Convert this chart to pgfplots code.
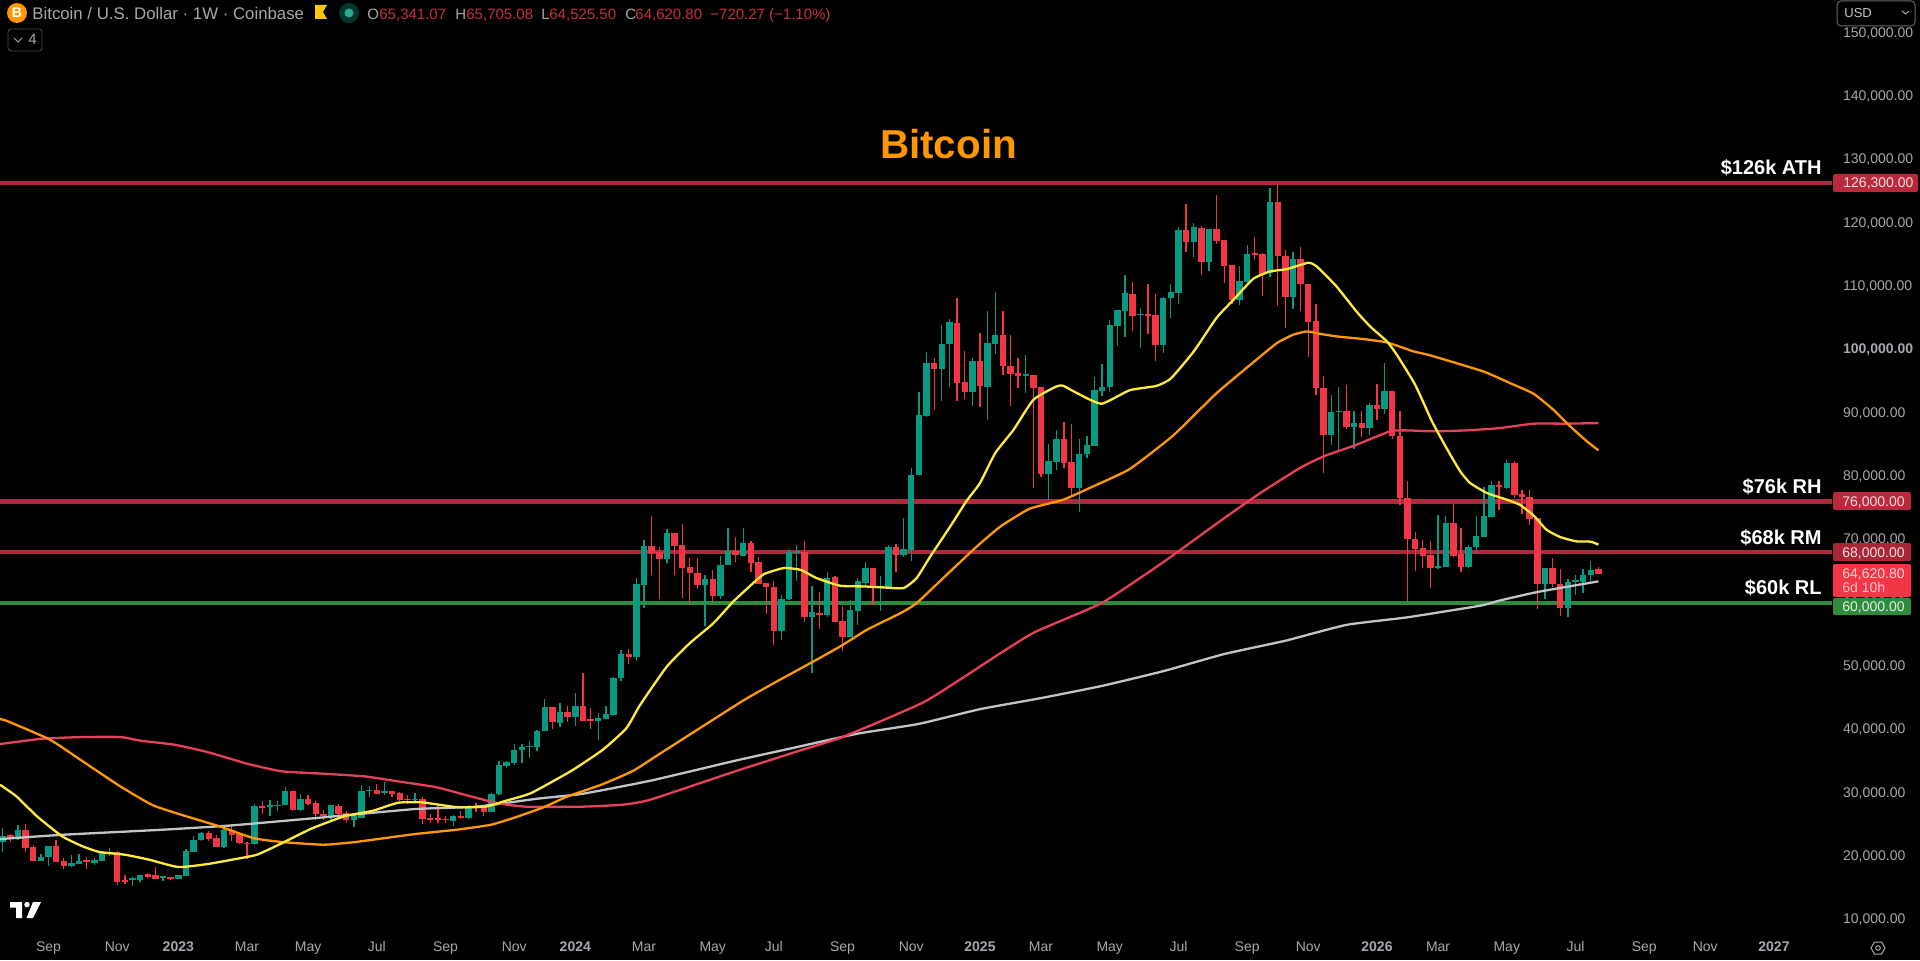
\documentclass[border=0pt]{standalone}
\usepackage{fontspec}
\setmainfont{Liberation Sans}
\usepackage{pgfplots}
\usepackage{pgfplotstable}
\pgfplotsset{compat=1.18}
\definecolor{cg}{HTML}{089981}
\definecolor{cr}{HTML}{F23645}
\definecolor{lred}{HTML}{AC2A3C}
\definecolor{tred}{HTML}{B7293B}
\definecolor{lgreen}{HTML}{2E8B3E}
\definecolor{myel}{HTML}{FFEB3B}
\definecolor{mora}{HTML}{FF9800}
\definecolor{mpink}{HTML}{E8405A}
\definecolor{mgrey}{HTML}{C2C4CA}
\definecolor{tick}{HTML}{A6A8AE}
\definecolor{hred}{HTML}{C8303F}
\pgfplotstableread{
i o h l c
0 22310 24420 20630 23100
2 22840 24840 22580 24150
5 19260 20370 19260 19840
6 19840 21630 18470 21630
9 18520 20210 18260 18890
10 18790 20310 18790 19260
12 19000 19680 18520 19370
13 19260 20840 19260 20470
14 20470 21260 19950 20630
17 16260 16630 15210 16420
18 16210 17000 15900 16950
21 16580 16740 16100 16740
23 16370 17000 16370 16950
24 16950 21100 16840 20730
25 20730 23100 20630 22530
26 22530 23790 22310 23580
29 21530 24950 21260 24150
33 21890 28210 21790 27840
35 27790 28890 26260 27990
36 27990 28630 27160 28100
37 28100 30840 27990 30210
39 27370 29790 27050 29050
43 26370 28100 25730 27950
46 25790 26630 24520 26310
47 26100 31150 26100 30310
48 30310 31000 29260 30470
50 30000 31630 29680 30210
54 28840 29940 28370 29050
59 25630 26520 24730 26260
61 26000 28100 25890 27840
64 26940 30000 26940 29790
65 29790 35000 29680 34310
66 34310 35050 33890 34840
67 34780 37680 34310 36780
68 36780 37680 34630 37150
69 37260 38200 35470 37420
70 37200 39940 36520 39780
71 39780 44840 39680 43570
73 41100 44150 40310 42730
75 42050 45730 40470 43680
78 41310 42570 38360 41780
79 41730 43630 41630 42360
80 42360 48310 42150 48100
81 48100 52570 47570 51940
83 51420 63890 50730 62940
84 62840 69840 59150 68890
87 66940 71680 66260 70990
92 62830 64410 56260 63780
94 61150 67310 60620 66000
95 66000 71780 66000 68200
97 67470 71780 67470 69410
102 55570 61260 54050 60570
103 60570 68360 60470 67990
104 67990 69150 63360 68100
106 57840 62570 48890 58520
108 58100 64830 57680 63940
111 54570 60360 54570 58890
112 58780 63890 56520 63360
113 63200 66360 62410 65410
115 62520 64260 58620 62680
116 62520 69150 62310 68780
118 67570 73360 67260 68520
119 68360 81260 66620 80210
120 80210 93260 80210 89630
121 89570 99570 89260 97840
123 96940 103780 91790 100890
124 100890 104840 94000 104260
127 93260 98630 91100 98100
129 94150 106000 88890 100940
130 100940 109050 99260 102310
134 95940 99150 93100 96100
137 80420 85100 76260 82310
138 82310 87310 81000 85840
141 78100 85890 74310 83470
142 83470 86260 82840 84840
143 84840 95630 84840 93520
144 93520 97730 92580 94050
145 94050 104680 93260 103780
146 103780 106150 100470 106150
147 106150 111790 101890 108890
149 105470 106520 100200 105630
152 100730 108200 99420 108100
153 108100 110310 104940 109000
154 108890 119320 107200 118890
156 117050 119940 114520 119260
158 113890 119050 112420 119050
162 107840 113100 107050 110840
163 110730 116520 110470 115100
166 112050 125470 111360 123260
169 108360 115360 106420 114310
174 86520 92840 84940 90100
175 90200 94000 83890 90310
177 87840 90210 84310 88370
179 87580 91520 86520 91260
181 90570 97840 89790 93360
188 65580 73800 65270 65790
189 65690 73640 65690 72580
192 65690 69060 65480 68790
193 68790 73640 67690 70480
194 70480 78210 70480 73640
195 73640 79270 73530 78480
197 78210 82580 78000 82060
202 63060 65480 60640 65480
205 59270 63800 57690 63270
206 63370 64420 61160 63530
207 63370 65370 61530 64420
208 64420 66640 63480 65060
}\greens
\pgfplotstableread{
i o h l c
1 23315 23525 22210 22950
3 24150 25050 20630 21370
4 21370 21680 19260 19260
7 21630 22580 19160 19160
8 19260 19680 17950 18520
11 19310 19790 17950 19160
15 20630 20730 15470 16000
16 16210 16950 15580 16000
19 17100 17310 16530 16740
20 16950 18210 16370 16470
22 16630 16740 16210 16370
27 23580 24000 22420 22790
28 22790 23370 21370 21530
30 24150 25050 22420 23370
31 23370 23630 21900 22100
32 22100 22210 19580 22000
34 27900 28630 26630 27700
38 30210 30310 27050 27310
40 29050 29580 27990 28310
41 28310 28630 25730 26630
42 26630 27310 25730 26370
44 27840 28260 26420 26730
45 26730 27050 25210 25680
49 30420 31360 29790 29890
51 30160 30210 29260 29890
52 29890 30100 28630 28940
53 29050 29580 28210 28840
55 29050 29370 25050 25940
56 25940 26630 25210 25790
57 26000 27840 25210 25790
58 25890 26260 25260 25790
60 26260 27160 25890 26100
62 27890 28370 26940 27680
63 27680 28100 26310 26940
72 43570 43570 40050 41150
74 42780 43630 41150 42000
76 43730 48890 41260 41360
77 41570 43360 40050 41420
82 51940 52730 50360 51420
85 68890 73620 64410 67940
86 67990 68730 60620 66940
88 70990 71000 64310 69040
89 69040 72470 60730 65570
90 65570 67050 59780 64680
91 64680 67050 62200 62830
93 63780 65200 60100 61150
96 68200 70310 66360 67520
98 69410 69780 64830 66360
99 66360 67150 62940 62940
100 63000 63100 58200 62470
101 62470 63470 53360 55570
105 67990 69680 56940 57840
107 58360 61620 55890 58200
109 64000 64260 57050 57050
110 57050 59410 52410 54570
114 65410 65410 59570 62520
117 68730 69260 64830 67570
122 97840 98630 90470 96940
125 104210 108100 91890 94790
126 94790 99680 92150 93260
128 98100 102570 90940 94260
131 102310 106100 96000 97360
132 97420 102310 91000 96150
133 96210 98630 93890 95840
135 96000 96000 78100 94000
136 94000 94000 79840 80420
139 85840 88470 81260 82150
140 82150 88210 76790 78100
148 108790 110630 102840 105360
150 105520 110360 102470 105360
151 105360 108730 98100 100730
155 118890 122940 115310 117050
157 119150 119420 111680 113890
159 119050 124310 116630 117210
160 117260 117260 110470 113210
161 113260 113260 107150 107840
164 115210 117730 114150 115050
165 115050 115210 108360 111890
167 123260 126000 106790 114730
168 114780 115730 103360 108360
170 114310 116150 106000 110310
171 110310 110310 98730 104420
172 104420 107150 92730 93890
173 93890 95730 80500 86520
176 90210 94420 87470 87840
178 88370 90310 86100 87580
180 91150 94570 88890 90570
182 93360 93360 85840 86360
183 86360 90210 75480 76530
184 76530 79160 60210 70060
185 70060 71160 64950 68530
186 68530 69950 65480 67430
187 67480 69800 62320 65580
190 72580 75640 67270 67480
191 67580 71790 64800 65740
196 78530 79270 74690 78370
198 82060 82320 76530 77060
199 77110 77850 74000 76690
200 76690 77850 72320 73320
201 73320 73320 59060 63060
203 65480 67060 62420 62950
204 62950 65370 57850 59270
209 65341 65705 64525 64620
}\reds
\newcommand{\candles}[2]{%
\addplot[draw=none,mark=none,forget plot,error bars/.cd,y dir=both,y explicit,error mark=none,error bar style={draw=#2,line width=0.65pt}]
 table[x=i,y expr={(\thisrow{h}+\thisrow{l})/2},y error expr={(\thisrow{h}-\thisrow{l})/2}]{#1};
\addplot[draw=none,mark=none,forget plot,error bars/.cd,y dir=both,y explicit,error mark=none,error bar style={draw=#2,line width=3.2pt}]
 table[x=i,y expr={(\thisrow{o}+\thisrow{c})/2},y error expr={abs(\thisrow{o}-\thisrow{c})/2+35}]{#1};
}
\begin{document}
\begin{tikzpicture}
\path[use as bounding box,fill=black] (0,0) rectangle (960pt,480pt);
\begin{axis}[at={(0,14.3pt)},anchor=south west,width=916pt,height=465pt,scale only axis,
 xmin=-0.354,xmax=239.6,ymin=8100,ymax=154950,clip=false,
 axis line style={draw=none},tick style={draw=none},major tick length=0pt,
 ytick pos=right,yticklabel pos=right,
 ytick={10000,20000,30000,40000,50000,60000,70000,80000,90000,110000,120000,130000,140000,150000},
 extra y ticks={100000},extra y tick style={yticklabel style={font=\fontsize{7pt}{8pt}\selectfont\bfseries}},
 y tick label style={font=\fontsize{7pt}{8pt}\selectfont,text=tick,anchor=west,xshift=2pt,yshift=-0.3pt,
   /pgf/number format/assume math mode=true,/pgf/number format/fixed,/pgf/number format/fixed zerofill,/pgf/number format/precision=2,/pgf/number format/1000 sep={,}},
 scaled y ticks=false,
 xtick={6,15,23,32,40,49,58,67,75,84,93,101,110,119,128,136,145,154,163,171,180,188,197,206,215,223,232},
 xticklabels={Sep,Nov,\textbf{2023},Mar,May,Jul,Sep,Nov,\textbf{2024},Mar,May,Jul,Sep,Nov,\textbf{2025},Mar,May,Jul,Sep,Nov,\textbf{2026},Mar,May,Jul,Sep,Nov,\textbf{2027}},
 x tick label style={font=\fontsize{7pt}{8pt}\selectfont,text=tick,yshift=-1.5pt},
]
\addplot[lred,line width=2.2pt,forget plot] coordinates {(-0.354,126300)(239.6,126300)};
\addplot[lred,line width=2.2pt,forget plot] coordinates {(-0.354,76000)(239.6,76000)};
\addplot[lred,line width=2.2pt,forget plot] coordinates {(-0.354,68000)(239.6,68000)};
\addplot[lgreen,line width=2.2pt,forget plot] coordinates {(-0.354,60000)(239.6,60000)};
\candles{\greens}{cg}
\candles{\reds}{cr}
% grey
\addplot[mgrey,line width=1.15pt,smooth,tension=0.3,forget plot] coordinates {(-0.354,22680)(8,23370)(21,24160)(30,24840)(41,26000)(54,27420)(62,27790)(70,29050)(76,29840)(85,31940)(96,35070)(104,37200)(112,39330)(120,40870)(128,43190)(136,44940)(144,46870)(152,49190)(160,51900)(168,54000)(176,56500)(184,57700)(193.5,59530)(196,60320)(201,61690)(209,63370)};
% pink
\addplot[mpink,line width=1.15pt,smooth,tension=0.3,forget plot] coordinates {(-0.354,37680)(5.1,38520)(10.5,38790)(15.4,38790)(18.1,38210)(22.5,37580)(26.8,36420)(32.2,34520)(36.6,33370)(42,33000)(47.4,32580)(51.8,31790)(56.7,30890)(60.5,29680)(64.8,28360)(68.6,27790)(75.7,27790)(81.1,28100)(84.8,28890)(96,33400)(104,36500)(110,38800)(120.8,44410)(130.7,52050)(135.2,55370)(144,60000)(152,66400)(159.4,72840)(164.7,77310)(169.9,81270)(173,83110)(177.1,84850)(181.7,87060)(183.9,87210)(187.4,87060)(191.7,87210)(196.1,87580)(200.5,88270)(204.8,88270)(209,88370)};
% orange
\addplot[mora,line width=1.15pt,smooth,tension=0.3,forget plot] coordinates {(-0.354,41650)(0.7,41260)(6.2,38370)(10.5,34940)(15.4,31000)(19.7,28000)(24.1,26260)(28.4,24680)(32.8,22840)(36.6,22210)(42,21790)(45.8,22160)(48.5,22580)(54,23470)(59.4,24150)(64,24950)(67.5,26260)(70.8,27680)(74,29420)(78.4,31260)(82.6,33470)(86,36100)(96.8,44410)(101.4,47570)(105.8,50470)(109.7,53100)(113.2,55730)(117.6,58360)(119.7,59940)(124.1,64940)(127.6,68890)(130.7,72050)(134.5,74840)(138.9,76260)(142.8,78360)(147.6,81100)(153.3,86400)(159,93100)(164.2,98360)(166.9,101000)(169,102310)(170.8,102840)(172.5,102470)(174.7,102050)(178.2,101630)(181.3,101100)(184.8,99680)(187,99050)(193.9,96530)(197.4,94690)(200.5,93000)(203.1,90480)(205.3,87850)(207.5,85480)(209,84060)};
% yellow
\addplot[myel,line width=1.15pt,smooth,tension=0.3,forget plot] coordinates {(-0.354,31260)(1.8,29420)(4.5,26260)(7.8,23100)(10.5,21520)(12.7,20630)(16,20210)(19.2,19420)(23,18260)(26.8,18730)(30,19420)(33.3,20210)(36.6,22050)(40.4,24310)(44.7,26260)(48.5,27160)(51.8,28420)(55,28470)(59.4,27730)(63.2,27790)(65.9,28730)(69.2,29940)(74.5,33470)(78.6,36780)(81.7,40200)(83.5,43890)(87,49940)(90,53620)(93.1,56780)(95.7,60200)(98.3,63100)(99.7,64520)(102.3,65470)(104.5,65200)(106.6,63890)(109.7,62680)(112.8,62570)(115.4,62410)(118,62310)(119.7,63890)(121.5,67310)(124.3,72400)(126.2,76000)(128,78890)(130,83630)(132.4,87310)(135,92050)(138,94150)(138.9,94260)(140.7,93100)(143.9,91420)(147.6,93550)(151.1,94230)(153,95400)(156,99680)(159,105000)(161.2,107840)(163.8,111150)(166,112310)(168.2,112680)(171,113680)(172.1,113100)(174.7,109940)(177.3,106000)(179.1,103630)(181.3,101260)(182.6,99150)(185,94420)(187.2,88640)(189.1,84430)(190.9,80740)(192.2,78900)(194.4,77320)(197,76270)(198.7,75480)(200.5,73790)(202.2,71530)(204,70370)(206.1,69690)(208,69640)(209,69160)};
\end{axis}
\begin{scope}[x=0.5pt,y=-0.5pt,yshift=480pt]
% title and level labels
\node[anchor=center,text=mora,font=\fontsize{20.2pt}{22pt}\selectfont\bfseries] at (948.5,144) {Bitcoin};
\tikzset{lv/.style={anchor=base east,text=white,font=\fontsize{10pt}{11pt}\selectfont\bfseries,inner sep=0}}
\node[lv] at (1822,175) {\$126k ATH};
\node[lv] at (1822,493) {\$76k RH};
\node[lv] at (1822,544) {\$68k RM};
\node[lv] at (1822,594) {\$60k RL};
% price tags
\tikzset{tg/.style={anchor=base west,font=\fontsize{7pt}{8pt}\selectfont,inner sep=0}}
\fill[tred,rounded corners=1pt] (1833,174) rectangle (1918,192);
\node[tg,text=white!85!tred] at (1843,188) {126,300.00};
\fill[tred,rounded corners=1pt] (1833,492) rectangle (1911,510);
\node[tg,text=white!85!tred] at (1842,506) {76,000.00};
\fill[tred!92!black,rounded corners=1pt] (1833,543) rectangle (1911,561);
\node[tg,text=white!85!tred] at (1842,557) {68,000.00};
\fill[cr,rounded corners=1pt] (1833,564) rectangle (1911,597);
\node[tg,text=white!78!cr] at (1842,578) {64,620.80};
\node[tg,text=white!70!cr] at (1842,592) {6d 10h};
\fill[lgreen,rounded corners=1pt] (1833,598) rectangle (1911,615);
\node[tg,text=white!88!lgreen] at (1842,611) {60,000.00};
% header
\fill[mora] (17,13) circle (10);
\node[anchor=center,text=white,font=\fontsize{7pt}{8pt}\selectfont\bfseries] at (17,13) {B};
\tikzset{hd/.style={anchor=base west,inner sep=0,font=\fontsize{7.5pt}{9pt}\selectfont}}
\node[hd,text=tick,font=\fontsize{8.4pt}{9pt}\selectfont] at (32,19.5) {Bitcoin / U.S. Dollar · 1W · Coinbase};
\fill[yellow!60!orange] (315,5) -- (327,5) -- (323,12) -- (327,19) -- (315,19) -- cycle;
\fill[cg!35!black] (349,13) circle (10);
\fill[cg!85!white] (349,13) circle (4.5);
\node[hd,text=tick] at (367,19.5) {O};
\node[hd,text=hred] at (379,19.5) {65,341.07};
\node[hd,text=tick] at (455,19.5) {H};
\node[hd,text=hred] at (466,19.5) {65,705.08};
\node[hd,text=tick] at (541,19.5) {L};
\node[hd,text=hred] at (549,19.5) {64,525.50};
\node[hd,text=tick] at (625,19.5) {C};
\node[hd,text=hred] at (635,19.5) {64,620.80};
\node[hd,text=hred] at (710,19.5) {−720.27 (−1.10\%)};
\draw[black!70!white,line width=0.4pt,rounded corners=1.5pt] (8,29) rectangle (42,51);
\draw[tick,line width=0.5pt] (14,38) -- (18,42) -- (22,38);
\node[hd,text=tick] at (28,45) {4};
% USD box
\fill[black] (1836,0) rectangle (1917,27);
\draw[black!60!white,line width=0.5pt,rounded corners=2pt] (1837,1) rectangle (1915,26);
\node[anchor=base west,inner sep=0,text=mgrey,font=\fontsize{6.5pt}{8pt}\selectfont] at (1844,18) {USD};
\draw[tick,line width=0.5pt] (1902,11) -- (1905.5,14) -- (1909,11);
% TradingView logo
\fill[white] (10,902) -- (22,902) -- (22,918) -- (16,918) -- (16,907.5) -- (10,907.5) -- cycle;
\fill[white] (27,904.6) circle (2.7);
\fill[white] (33,902) -- (41,902) -- (33,918) -- (26.5,918) -- cycle;
% settings icon
\draw[tick,line width=0.5pt] (1871,948) -- (1874.5,942) -- (1881.5,942) -- (1885,948) -- (1881.5,954) -- (1874.5,954) -- cycle;
\draw[tick,line width=0.5pt] (1878,948) circle (2.3);
\end{scope}
\end{tikzpicture}
\end{document}
